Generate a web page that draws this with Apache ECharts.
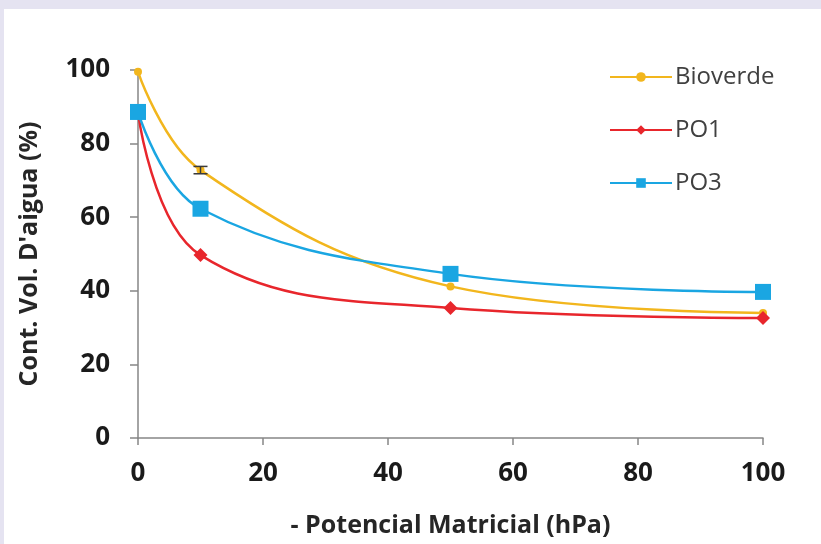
<!DOCTYPE html>
<html>
<head>
<meta charset="utf-8">
<script src="https://cdn.jsdelivr.net/npm/echarts@6/dist/echarts.min.js"></script>
<style>
html,body{margin:0;padding:0;width:821px;height:544px;background:#e5e3f1;overflow:hidden;}
#c{position:absolute;left:4px;top:9px;width:817px;height:535px;background:#fff;}
</style>
</head>
<body>
<div id="c"></div>
<script>
const xValues = [0, 10, 50, 100];
const bioverde = [99.5, 72.8, 41.2, 34.0];
const po1 = [88.5, 49.7, 35.3, 32.6];
const po3 = [88.6, 62.3, 44.6, 39.7];
const bioverdeErr = [0, 1.0, 0, 0];
const xTicks = [0, 20, 40, 60, 80, 100];
const yTicks = [0, 20, 40, 60, 80, 100];

const pairs = (ys) => xValues.map((x, i) => [x, ys[i]]);
const errData = xValues.map((x, i) => [x, bioverde[i] - bioverdeErr[i], bioverde[i] + bioverdeErr[i]]).filter((d, i) => bioverdeErr[i] > 0);

const font = '"Open Sans", "Liberation Sans", sans-serif';
const chart = echarts.init(document.getElementById('c'));
chart.setOption({
  animation: false,
  grid: {left: 134, right: 58, top: 61, bottom: 106},
  legend: {
    orient: 'vertical', left: 600, top: 51, itemWidth: 62, itemHeight: 12, itemGap: 29,
    textStyle: {fontFamily: font, fontSize: 24, color: '#404040', padding: [0, 0, 0, -2]},
    data: ['Bioverde', 'PO1', 'PO3']
  },
  xAxis: {
    type: 'value', min: xTicks[0], max: xTicks[xTicks.length - 1], interval: 20,
    name: '- Potencial Matricial (hPa)', nameLocation: 'middle', nameGap: 75,
    nameTextStyle: {fontFamily: font, fontSize: 25, fontWeight: 'bold', color: '#262626'},
    axisLine: {lineStyle: {color: '#868686', width: 1.5}},
    axisTick: {show: true, length: 7, lineStyle: {color: '#868686', width: 1.5}},
    axisLabel: {fontFamily: font, fontSize: 26, fontWeight: 'bold', color: '#1a1a1a', margin: 23},
    splitLine: {show: false}
  },
  yAxis: {
    type: 'value', min: yTicks[0], max: yTicks[yTicks.length - 1], interval: 20,
    name: "Cont. Vol. D'aigua (%)", nameLocation: 'middle', nameGap: 96, nameRotate: 90,
    nameTextStyle: {fontFamily: font, fontSize: 25, fontWeight: 'bold', color: '#262626'},
    axisLine: {show: true, lineStyle: {color: '#868686', width: 1.5}},
    axisTick: {show: true, length: 8, lineStyle: {color: '#868686', width: 1.5}},
    axisLabel: {fontFamily: font, fontSize: 26, fontWeight: 'bold', color: '#1a1a1a', margin: 28},
    splitLine: {show: false}
  },
  series: [
    {
      name: 'Bioverde', type: 'line', data: pairs(bioverde), smooth: 0.4,
      symbol: 'circle', symbolSize: 8,
      lineStyle: {color: '#f2b61d', width: 2.5}, itemStyle: {color: '#f2b61d'}, z: 2
    },
    {
      name: 'PO1', type: 'line', data: pairs(po1), smooth: 0.4,
      symbol: 'diamond', symbolSize: 14,
      lineStyle: {color: '#e8262c', width: 2.5}, itemStyle: {color: '#e8262c'}, z: 3
    },
    {
      name: 'PO3', type: 'line', data: pairs(po3), smooth: 0.4,
      symbol: 'rect', symbolSize: 16,
      lineStyle: {color: '#1aa6e2', width: 2.5}, itemStyle: {color: '#1aa6e2'}, z: 4
    },
    {
      name: 'err', type: 'custom', data: errData, z: 5,
      renderItem: function (params, api) {
        const x = api.value(0);
        const lo = api.coord([x, api.value(1)]);
        const hi = api.coord([x, api.value(2)]);
        const w = 7;
        const st = {stroke: '#3a3a3a', lineWidth: 1.5};
        return {type: 'group', children: [
          {type: 'line', shape: {x1: lo[0], y1: lo[1], x2: hi[0], y2: hi[1]}, style: st},
          {type: 'line', shape: {x1: lo[0] - w, y1: lo[1], x2: lo[0] + w, y2: lo[1]}, style: st},
          {type: 'line', shape: {x1: hi[0] - w, y1: hi[1], x2: hi[0] + w, y2: hi[1]}, style: st}
        ]};
      }
    }
  ]
});
</script>
</body>
</html>
